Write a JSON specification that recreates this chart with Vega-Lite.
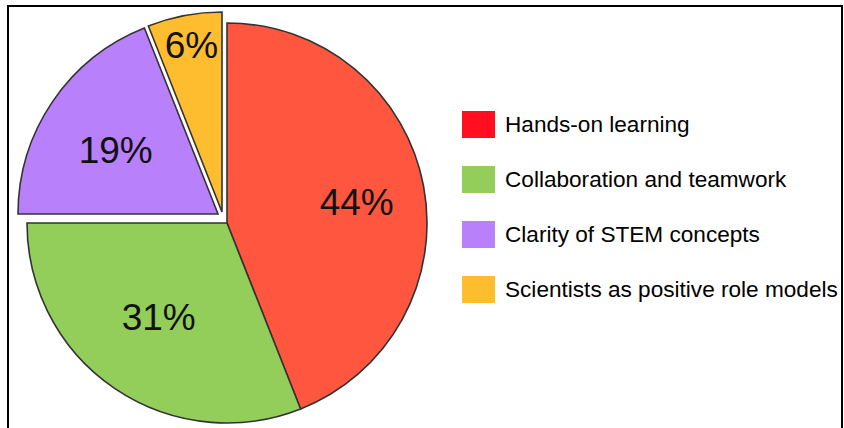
{
  "$schema": "https://vega.github.io/schema/vega-lite/v6.json",
  "width": 834,
  "height": 424,
  "autosize": {"type": "none"},
  "padding": {"left": 8, "top": 6, "right": 2, "bottom": 0},
  "background": "white",
  "view": {"stroke": "#000000", "strokeWidth": 2, "fill": "white"},
  "config": {
    "font": "Liberation Sans"
  },
  "data": {
    "values": [
      {"category": "Hands-on learning", "value": 0.44, "order": 1},
      {"category": "Collaboration and teamwork", "value": 0.31, "order": 2},
      {"category": "Clarity of STEM concepts", "value": 0.19, "order": 3},
      {"category": "Scientists as positive role models", "value": 0.06, "order": 4}
    ]
  },
  "encoding": {
    "theta": {"field": "value", "type": "quantitative", "stack": true},
    "order": {"field": "order", "type": "quantitative"},
    "color": {
      "field": "category",
      "type": "nominal",
      "condition": {"test": "datum.category === 'Hands-on learning'", "value": "#ff5640"},
      "sort": ["Hands-on learning", "Collaboration and teamwork", "Clarity of STEM concepts", "Scientists as positive role models"],
      "scale": {
        "domain": ["Hands-on learning", "Collaboration and teamwork", "Clarity of STEM concepts", "Scientists as positive role models"],
        "range": ["#ff0f1f", "#93cd5a", "#b880fa", "#fdbd2f"]
      },
      "legend": {
        "orient": "none",
        "legendX": 454,
        "legendY": 102,
        "title": null,
        "padding": 0,
        "symbolType": "M-1,-0.82H1V0.82H-1Z",
        "symbolSize": 1089,
        "symbolStrokeWidth": 0,
        "symbolStrokeColor": "transparent",
        "symbolOpacity": 1,
        "labelFont": "Liberation Sans",
        "labelFontSize": 22.6,
        "labelColor": "#000000",
        "labelOffset": 10,
        "labelLimit": 400,
        "rowPadding": 24
      }
    }
  },
  "layer": [
    {
      "mark": {"type": "arc", "x": 219, "y": 217, "radius": 200, "stroke": "#333333", "strokeWidth": 1.6},
      "encoding": {
        "opacity": {"condition": {"test": "datum.category === 'Hands-on learning' || datum.category === 'Collaboration and teamwork'", "value": 1}, "value": 0}
      }
    },
    {
      "mark": {"type": "arc", "x": 210, "y": 208, "radius": 200, "stroke": "#333333", "strokeWidth": 1.6},
      "encoding": {
        "opacity": {"condition": {"test": "datum.category === 'Clarity of STEM concepts'", "value": 1}, "value": 0}
      }
    },
    {
      "mark": {"type": "arc", "x": 214, "y": 206, "radius": 200, "stroke": "#333333", "strokeWidth": 1.6},
      "encoding": {
        "opacity": {"condition": {"test": "datum.category === 'Scientists as positive role models'", "value": 1}, "value": 0}
      }
    },
    {
      "mark": {"type": "text", "x": 219, "y": 217, "radius": 132, "dy": 6, "fontSize": 37, "font": "Liberation Sans"},
      "encoding": {
        "text": {"field": "value", "type": "quantitative", "format": ".0%"},
        "color": {"value": "#111111"},
        "opacity": {"condition": {"test": "datum.category === 'Hands-on learning'", "value": 1}, "value": 0}
      }
    },
    {
      "mark": {"type": "text", "x": 219, "y": 217, "radius": 118, "dx": -2, "dy": -2, "fontSize": 37, "font": "Liberation Sans"},
      "encoding": {
        "text": {"field": "value", "type": "quantitative", "format": ".0%"},
        "color": {"value": "#111111"},
        "opacity": {"condition": {"test": "datum.category === 'Collaboration and teamwork'", "value": 1}, "value": 0}
      }
    },
    {
      "mark": {"type": "text", "x": 210, "y": 208, "radius": 120, "dx": -3, "dy": 5, "fontSize": 37, "font": "Liberation Sans"},
      "encoding": {
        "text": {"field": "value", "type": "quantitative", "format": ".0%"},
        "color": {"value": "#111111"},
        "opacity": {"condition": {"test": "datum.category === 'Clarity of STEM concepts'", "value": 1}, "value": 0}
      }
    },
    {
      "mark": {"type": "text", "x": 214, "y": 206, "radius": 168, "dx": 1, "fontSize": 37, "font": "Liberation Sans"},
      "encoding": {
        "text": {"field": "value", "type": "quantitative", "format": ".0%"},
        "color": {"value": "#111111"},
        "opacity": {"condition": {"test": "datum.category === 'Scientists as positive role models'", "value": 1}, "value": 0}
      }
    }
  ]
}
